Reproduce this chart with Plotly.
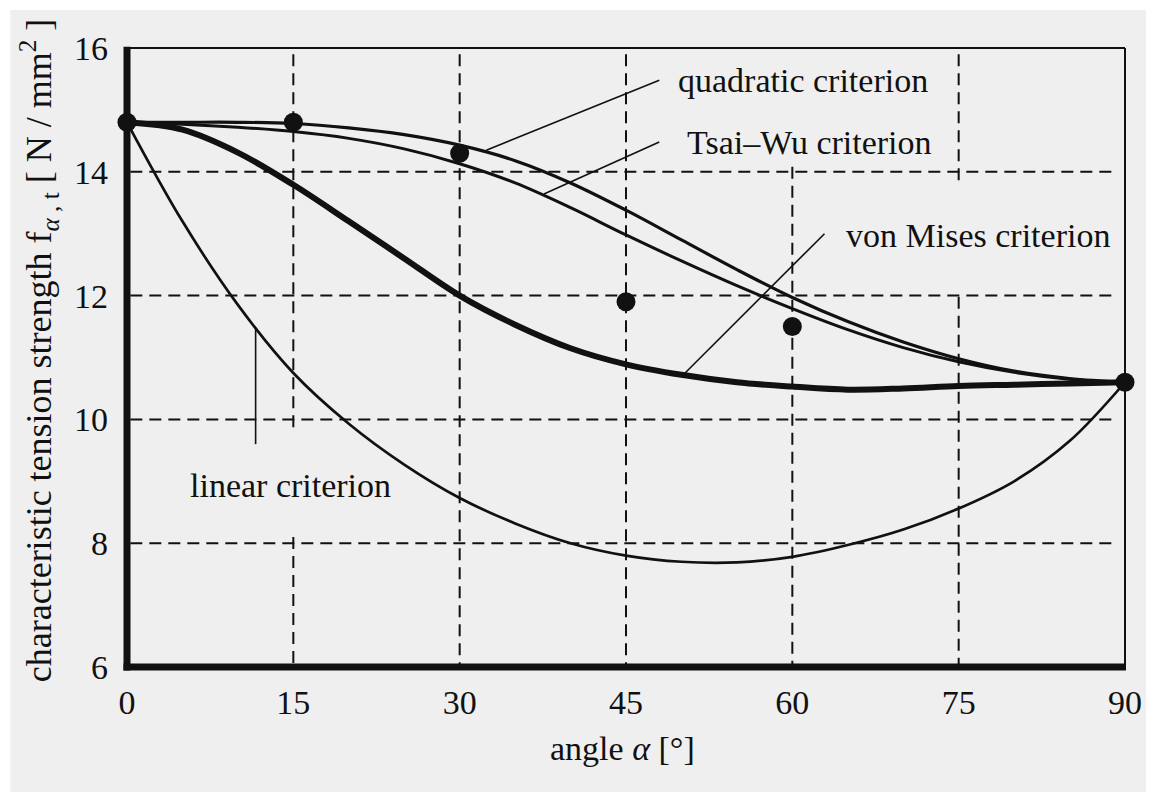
import plotly.graph_objects as go

# ---------------- data ----------------
ANGLE_TICKS = [0, 15, 30, 45, 60, 75, 90]
STRENGTH_TICKS = [6, 8, 10, 12, 14, 16]

TEST_ANGLE = [0, 15, 30, 45, 60, 90]
TEST_STRENGTH = [14.8, 14.8, 14.3, 11.9, 11.5, 10.6]

QUAD_ANGLE = [0, 5, 10, 15, 20, 25, 30, 35, 40, 45, 50, 55, 60, 65, 70, 75, 80, 85, 90]
QUAD_STRENGTH = [14.8, 14.8, 14.8, 14.78, 14.71, 14.6, 14.43, 14.18, 13.82, 13.38,
                 12.9, 12.42, 11.97, 11.58, 11.25, 10.98, 10.78, 10.66, 10.6]

TSAI_ANGLE = [0, 5, 10, 15, 20, 25, 30, 35, 40, 45, 50, 55, 60, 65, 70, 75, 80, 85, 90]
TSAI_STRENGTH = [14.8, 14.77, 14.72, 14.65, 14.54, 14.37, 14.13, 13.82, 13.42, 12.98,
                 12.56, 12.16, 11.79, 11.45, 11.16, 10.93, 10.76, 10.65, 10.6]

MISES_ANGLE = [0, 5, 10, 15, 20, 25, 30, 35, 40, 45, 50, 55, 60, 65, 70, 75, 80, 85, 90]
MISES_STRENGTH = [14.8, 14.68, 14.31, 13.79, 13.2, 12.6, 12.0, 11.53, 11.15, 10.89,
                  10.72, 10.6, 10.53, 10.48, 10.5, 10.54, 10.56, 10.58, 10.6]

LINEAR_ANGLE = [0, 5, 10, 15, 20, 25, 30, 35, 40, 45, 50, 55, 60, 65, 70, 75, 80, 85, 90]
LINEAR_STRENGTH = [14.8, 13.2, 11.85, 10.75, 9.93, 9.27, 8.73, 8.32, 8.0, 7.8, 7.7,
                   7.69, 7.78, 7.97, 8.22, 8.56, 9.0, 9.65, 10.6]

LABELS = ["quadratic criterion", "Tsai\u2013Wu criterion", "von Mises criterion", "linear criterion"]

# ---------------- style / layout helpers ----------------
FONT = "Liberation Serif"
INK = "#111111"
PAPER = "#efefef"

# label anchor positions (data coords, left/middle) and leader lines
LABEL_POS = [(49.5, 15.48), (50.3, 14.48), (64.7, 12.97), (5.5, 8.94)]
LEADERS = [((48.0, 15.48), (32.4, 14.35)),
           ((48.0, 14.48), (37.6, 13.64)),
           ((62.9, 13.0), (50.1, 10.71)),
           ((11.6, 11.48), (11.6, 9.6))]

# dashed grid segments (some interrupted behind the labels)
V_GRID = {15: [(15.9, 9.77), (8.1, 6)], 30: [(15.9, 6)], 45: [(15.9, 6)],
          60: [(14.08, 6)], 75: [(15.9, 13.79), (11.98, 6)]}
H_GRID = [8, 10, 12, 14]

fig = go.Figure()

curve_style = [
    (QUAD_ANGLE, QUAD_STRENGTH, 3.2),
    (TSAI_ANGLE, TSAI_STRENGTH, 3.0),
    (MISES_ANGLE, MISES_STRENGTH, 6.0),
    (LINEAR_ANGLE, LINEAR_STRENGTH, 2.7),
]
for (xs, ys, w), name in zip(curve_style, LABELS):
    fig.add_trace(go.Scatter(x=xs, y=ys, mode="lines", name=name,
                             line=dict(color=INK, width=w, shape="spline", smoothing=1.0),
                             hoverinfo="skip", showlegend=False))

fig.add_trace(go.Scatter(x=TEST_ANGLE, y=TEST_STRENGTH, mode="markers", name="tests",
                         marker=dict(color=INK, size=19), cliponaxis=False,
                         showlegend=False))

shapes = []
# white scan border strips (page body margin supplies most of it)
shapes.append(dict(type="rect", xref="paper", yref="paper", x0=-0.3, x1=-0.1169,
                   y0=-0.4, y1=1.3, fillcolor="white", line=dict(width=0), layer="below"))
shapes.append(dict(type="rect", xref="paper", yref="paper", x0=-0.3, x1=1.2,
                   y0=1.0614, y1=1.3, fillcolor="white", line=dict(width=0), layer="below"))

dash = "12px,7px"
for xv, segs in V_GRID.items():
    for y0, y1 in segs:
        shapes.append(dict(type="line", xref="x", yref="y", x0=xv, x1=xv, y0=y0, y1=y1,
                           line=dict(color=INK, width=2, dash=dash), layer="below"))
for yv in H_GRID:
    shapes.append(dict(type="line", xref="x", yref="y", x0=0.3, x1=89.4, y0=yv, y1=yv,
                       line=dict(color=INK, width=2, dash=dash), layer="below"))

# frame: thick left/bottom, thin top/right
shapes.append(dict(type="line", xref="paper", yref="paper", x0=0, x1=1, y0=1, y1=1,
                   line=dict(color=INK, width=2)))
shapes.append(dict(type="line", xref="paper", yref="paper", x0=1, x1=1, y0=0, y1=1,
                   line=dict(color=INK, width=2)))
shapes.append(dict(type="line", xref="paper", yref="paper", x0=0, x1=0, y0=-0.0055, y1=1.002,
                   line=dict(color=INK, width=7)))
shapes.append(dict(type="line", xref="paper", yref="paper", x0=-0.0035, x1=1.001, y0=0, y1=0,
                   line=dict(color=INK, width=7)))

# leader lines
for (x0, y0), (x1, y1) in LEADERS:
    shapes.append(dict(type="line", xref="x", yref="y", x0=x0, y0=y0, x1=x1, y1=y1,
                       line=dict(color=INK, width=1.6)))

annotations = []
for text, (lx, ly) in zip(LABELS, LABEL_POS):
    annotations.append(dict(x=lx, y=ly, xref="x", yref="y", text=text, showarrow=False,
                            xanchor="left", yanchor="middle",
                            font=dict(family=FONT, size=34, color=INK)))

annotations.append(dict(
    x=-0.088, y=0.512, xref="paper", yref="paper", textangle=-90,
    text="characteristic tension strength f<sub><i>\u03b1</i> , t</sub> [ N / mm<sup>2</sup> ]",
    showarrow=False, xanchor="center", yanchor="middle",
    font=dict(family=FONT, size=36, color=INK)))
annotations.append(dict(
    x=0.4965, y=-0.131, xref="paper", yref="paper",
    text="angle <i>\u03b1</i> [\u00b0]", showarrow=False, xanchor="center", yanchor="middle",
    font=dict(family=FONT, size=34, color=INK)))

# the page body adds an 8 px margin, so the figure is 8 px smaller and margins shifted
fig.update_layout(
    width=1146, height=784,
    margin=dict(l=119, r=26, t=40, b=125),
    paper_bgcolor=PAPER, plot_bgcolor=PAPER,
    font=dict(family=FONT, color=INK),
    shapes=shapes, annotations=annotations,
    showlegend=False,
    xaxis=dict(range=[0, 90], tickvals=ANGLE_TICKS, ticktext=[str(v) for v in ANGLE_TICKS],
               showgrid=False, zeroline=False, showline=False, ticks="",
               tickfont=dict(family=FONT, size=34, color=INK), ticklabelstandoff=12,
               fixedrange=True),
    yaxis=dict(range=[6, 16], tickvals=STRENGTH_TICKS, ticktext=[str(v) for v in STRENGTH_TICKS],
               showgrid=False, zeroline=False, showline=False, ticks="",
               tickfont=dict(family=FONT, size=34, color=INK), ticklabelstandoff=18,
               fixedrange=True),
)

fig.write_html("out.html")
